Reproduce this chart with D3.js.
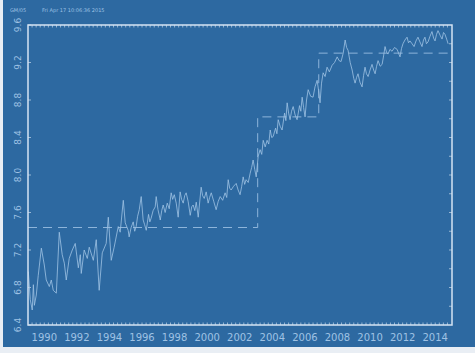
<!DOCTYPE html>
<html>
<head>
<meta charset="utf-8">
<script src="https://cdn.jsdelivr.net/npm/d3@7"></script>
<style>
  html, body { margin: 0; padding: 0; background: #e9eef4; }
  svg { display: block; }
</style>
</head>
<body>
<script>
// Series: decimal year and level
const years = [
  1989.02,1989.14,1989.26,1989.33,1989.39,1989.51,1989.63,1989.82,1990.00,1990.12,
  1990.31,1990.43,1990.55,1990.74,1990.92,1991.10,1991.23,1991.35,1991.53,1991.72,
  1991.90,1992.09,1992.21,1992.27,1992.45,1992.64,1992.76,1993.01,1993.19,1993.37,
  1993.56,1993.80,1993.93,1994.11,1994.29,1994.54,1994.66,1994.85,1994.97,1995.15,
  1995.21,1995.33,1995.46,1995.55,1995.64,1995.73,1995.83,1995.95,1996.07,1996.16,
  1996.26,1996.40,1996.48,1996.56,1996.68,1996.81,1996.87,1996.98,1997.12,1997.21,
  1997.30,1997.42,1997.55,1997.67,1997.79,1997.88,1997.98,1998.10,1998.22,1998.34,
  1998.43,1998.53,1998.62,1998.71,1998.83,1998.96,1999.05,1999.14,1999.24,1999.33,
  1999.45,1999.63,1999.72,1999.82,1999.94,2000.06,2000.15,2000.25,2000.40,2000.55,
  2000.68,2000.80,2000.95,2001.10,2001.20,2001.29,2001.38,2001.47,2001.62,2001.78,
  2001.90,2002.02,2002.12,2002.21,2002.30,2002.39,2002.52,2002.64,2002.73,2002.82,
  2002.92,2003.01,2003.13,2003.25,2003.35,2003.44,2003.56,2003.68,2003.78,2003.87,
  2003.96,2004.05,2004.20,2004.28,2004.36,2004.48,2004.60,2004.75,2004.83,2004.91,
  2005.00,2005.09,2005.18,2005.28,2005.40,2005.52,2005.67,2005.75,2005.83,2005.92,
  2006.01,2006.10,2006.20,2006.35,2006.50,2006.62,2006.75,2006.84,2006.93,2007.02,
  2007.12,2007.24,2007.36,2007.50,2007.67,2007.82,2007.98,2008.10,2008.22,2008.35,
  2008.47,2008.56,2008.65,2008.78,2008.90,2009.00,2009.08,2009.17,2009.26,2009.38,
  2009.51,2009.60,2009.69,2009.78,2009.88,2010.00,2010.12,2010.22,2010.31,2010.40,
  2010.49,2010.62,2010.74,2010.83,2010.92,2011.01,2011.10,2011.22,2011.35,2011.50,
  2011.66,2011.75,2011.84,2011.93,2012.02,2012.14,2012.27,2012.36,2012.45,2012.58,
  2012.70,2012.82,2012.94,2013.06,2013.19,2013.28,2013.37,2013.46,2013.56,2013.68,
  2013.80,2013.90,2013.99,2014.08,2014.17,2014.30,2014.42,2014.51,2014.60,2014.70,
  2014.79
];
const values = [
  6.97,6.67,6.56,6.83,6.61,6.72,6.93,7.22,7.04,6.88,
  6.81,6.88,6.77,6.74,7.39,7.15,7.06,6.88,7.11,7.20,
  7.27,7.01,7.15,6.95,7.20,7.11,7.23,7.09,7.31,6.77,
  7.17,7.27,7.55,7.09,7.23,7.45,7.39,7.73,7.49,7.41,
  7.34,7.44,7.50,7.40,7.45,7.56,7.63,7.77,7.52,7.47,
  7.41,7.58,7.50,7.54,7.62,7.66,7.77,7.63,7.52,7.62,
  7.68,7.60,7.70,7.64,7.81,7.74,7.79,7.70,7.55,7.82,
  7.74,7.70,7.78,7.81,7.72,7.57,7.66,7.68,7.62,7.71,
  7.55,7.87,7.78,7.75,7.82,7.70,7.76,7.81,7.72,7.63,
  7.72,7.77,7.73,7.81,7.76,7.95,7.86,7.84,7.88,7.91,
  7.84,7.79,7.88,7.98,7.90,7.95,7.92,8.02,8.08,8.16,
  8.06,7.98,8.20,8.27,8.22,8.37,8.30,8.37,8.33,8.48,
  8.40,8.41,8.50,8.44,8.59,8.52,8.48,8.66,8.58,8.77,
  8.66,8.59,8.68,8.73,8.64,8.59,8.74,8.68,8.83,8.72,
  8.62,8.80,8.91,8.84,8.83,8.94,9.01,8.90,8.77,8.98,
  9.09,9.05,9.15,9.10,9.17,9.20,9.26,9.22,9.21,9.30,
  9.44,9.36,9.33,9.20,9.12,9.03,8.98,9.04,9.08,8.99,
  8.94,9.06,9.15,9.08,9.05,9.12,9.18,9.12,9.08,9.16,
  9.22,9.16,9.18,9.27,9.37,9.31,9.29,9.34,9.32,9.36,
  9.34,9.30,9.26,9.35,9.40,9.44,9.47,9.41,9.43,9.40,
  9.37,9.43,9.47,9.42,9.37,9.44,9.47,9.40,9.42,9.48,
  9.53,9.46,9.43,9.50,9.54,9.49,9.45,9.52,9.50,9.45,
  9.40
];

// Segment means (regime levels)
const segStart = [1989.0, 2003.1, 2006.85];
const segEnd   = [2003.1, 2006.85, 2015.03];
const segMean  = [7.44, 8.62, 9.30];

const yTicks = [6.4, 6.8, 7.2, 7.6, 8.0, 8.4, 8.8, 9.2, 9.6];
const xTicks = [1990, 1992, 1994, 1996, 1998, 2000, 2002, 2004, 2006, 2008, 2010, 2012, 2014];
const headerLeft = "GM/05";
const headerRight = "Fri Apr 17 10:06:36 2015";

const W = 475, H = 353;
const bg = "#2d69a1";
const fg = "#9fc2e4";
const frameCol = "#d5e4f3";

const svg = d3.select("body").append("svg").attr("width", W).attr("height", H);

svg.append("rect").attr("x", 3).attr("y", 0).attr("width", W - 3).attr("height", 347).attr("fill", bg);

const x = d3.scaleLinear().domain([1989.0, 2015.03]).range([28, 452]);
const y = d3.scaleLinear().domain([6.4, 9.6]).range([325, 25]);

// header text
svg.append("text").attr("x", 10).attr("y", 12).attr("fill", fg)
  .attr("font-family", "DejaVu Sans").attr("font-size", 5).text(headerLeft);
svg.append("text").attr("x", 42).attr("y", 12).attr("fill", fg)
  .attr("font-family", "DejaVu Sans").attr("font-size", 5).text(headerRight);

// minor ticks along top and bottom (quarterly)
const quarter = d3.range(1989.25, 2015.0, 0.25);
const gt = svg.append("g").attr("stroke", frameCol).attr("stroke-width", 0.8).attr("opacity", 0.8);
gt.selectAll("line.b").data(quarter).join("line")
  .attr("x1", d => x(d)).attr("x2", d => x(d))
  .attr("y1", y(6.4)).attr("y2", y(6.4) - 2.5);
gt.selectAll("line.t").data(quarter).join("line")
  .attr("x1", d => x(d)).attr("x2", d => x(d))
  .attr("y1", y(9.6)).attr("y2", y(9.6) + 2.5);
// left and right ticks
gt.selectAll("line.l").data(yTicks).join("line")
  .attr("x1", x(1989.0)).attr("x2", x(1989.0) + 3)
  .attr("y1", d => y(d)).attr("y2", d => y(d));
gt.selectAll("line.r").data(d3.range(6.6, 9.6, 0.2)).join("line")
  .attr("x1", x(2015.03)).attr("x2", x(2015.03) - 3)
  .attr("y1", d => y(d)).attr("y2", d => y(d));

// regime levels (dashed)
const stepPts = [];
segMean.forEach((m, i) => {
  stepPts.push([segStart[i], m]);
  stepPts.push([segEnd[i], m]);
});
svg.append("path")
  .attr("d", d3.line().x(d => x(d[0])).y(d => y(d[1]))(stepPts))
  .attr("fill", "none").attr("stroke", fg).attr("stroke-width", 1)
  .attr("stroke-dasharray", "9,6").attr("opacity", 0.85);

// series
svg.append("path")
  .attr("d", d3.line().x((d, i) => x(years[i])).y(d => y(d))(values))
  .attr("fill", "none").attr("stroke", fg).attr("stroke-width", 0.9)
  .attr("opacity", 0.9).attr("stroke-linejoin", "round");

// frame
svg.append("rect").attr("x", x(1989.0)).attr("y", y(9.6))
  .attr("width", x(2015.03) - x(1989.0)).attr("height", y(6.4) - y(9.6))
  .attr("fill", "none").attr("stroke", frameCol).attr("stroke-width", 1.5);

// y labels (rotated)
svg.append("g").selectAll("text").data(yTicks).join("text")
  .attr("transform", d => `translate(21,${y(d)}) rotate(-90)`)
  .attr("text-anchor", "middle").attr("fill", fg)
  .attr("font-family", "DejaVu Sans").attr("font-size", 9)
  .text(d => d.toFixed(1));

// x labels
svg.append("g").selectAll("text").data(xTicks).join("text")
  .attr("x", d => x(d)).attr("y", 341)
  .attr("text-anchor", "middle").attr("fill", fg)
  .attr("font-family", "DejaVu Sans").attr("font-size", 10)
  .text(d => d);
</script>
</body>
</html>
